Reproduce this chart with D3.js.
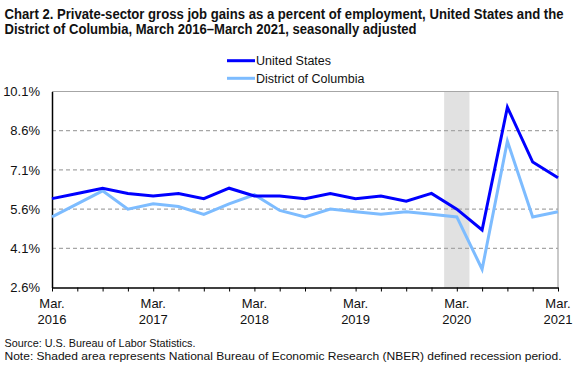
<!DOCTYPE html>
<html>
<head>
<meta charset="utf-8">
<script src="https://cdn.jsdelivr.net/npm/d3@7"></script>
<style>
  body { margin: 0; background: #fff; }
  svg { display: block; }
</style>
</head>
<body>
<div class="graph"></div>
<script>
// quarterly, Mar 2016 .. Mar 2021
const quarters = ["Mar 2016","Jun 2016","Sep 2016","Dec 2016","Mar 2017","Jun 2017","Sep 2017","Dec 2017",
                  "Mar 2018","Jun 2018","Sep 2018","Dec 2018","Mar 2019","Jun 2019","Sep 2019","Dec 2019",
                  "Mar 2020","Jun 2020","Sep 2020","Dec 2020","Mar 2021"];
const usValues = [6.0, 6.2, 6.4, 6.2, 6.1, 6.2, 6.0, 6.4, 6.1, 6.1, 6.0, 6.2, 6.0, 6.1, 5.9, 6.2, 5.6, 4.8, 9.5, 7.4, 6.8];
const dcValues = [5.3, 5.8, 6.3, 5.6, 5.8, 5.7, 5.4, 5.8, 6.15, 5.55, 5.3, 5.6, 5.5, 5.4, 5.5, 5.4, 5.3, 3.3, 8.2, 5.3, 5.5];
const yTicks = [2.6, 4.1, 5.6, 7.1, 8.6, 10.1];
const xLabelIdx = [0, 4, 8, 12, 16, 20];
const xLabels = [["Mar.","2016"],["Mar.","2017"],["Mar.","2018"],["Mar.","2019"],["Mar.","2020"],["Mar.","2021"]];
const recession = [15.5, 16.5]; // shaded band around Mar 2020

const width = 583, height = 371;
const margin = {top: 91.5, right: 25, bottom: 83.5, left: 52};

const svg = d3.select(".graph").append("svg")
    .attr("width", width)
    .attr("height", height)
    .style("font-family", "Arial, 'Liberation Sans', sans-serif");

const x = d3.scaleLinear()
    .domain([0, quarters.length - 1])
    .range([margin.left, width - margin.right]);

const y = d3.scaleLinear()
    .domain([2.6, 10.1])
    .range([height - margin.bottom, margin.top]);

// title
const title = svg.append("g")
    .style("font-family", "'Liberation Sans Narrow', 'Arial Narrow', Arial, sans-serif")
    .style("font-weight", "bold")
    .style("font-size", "14.5px")
    .attr("fill", "#111");
title.append("text").attr("x", 4.5).attr("y", 19)
    .attr("textLength", 559).attr("lengthAdjust", "spacingAndGlyphs")
    .text("Chart 2. Private-sector gross job gains as a percent of employment, United States and the");
title.append("text").attr("x", 4.5).attr("y", 34)
    .attr("textLength", 412).attr("lengthAdjust", "spacingAndGlyphs")
    .text("District of Columbia, March 2016\u2013March 2021, seasonally adjusted");

// recession shading
svg.append("rect")
    .attr("x", x(recession[0]))
    .attr("width", x(recession[1]) - x(recession[0]))
    .attr("y", y(10.1))
    .attr("height", y(2.6) - y(10.1))
    .attr("fill", "#e1e1e1");

// gridlines
svg.append("g")
    .selectAll("line")
    .data(yTicks.slice(1, -1))
    .join("line")
    .attr("x1", x(0)).attr("x2", x(20))
    .attr("y1", d => y(d)).attr("y2", d => y(d))
    .attr("stroke", "#a6a6a6")
    .attr("stroke-dasharray", "4,3")
    .attr("stroke-width", 1.2);

// top and right border
svg.append("path")
    .attr("d", `M${x(0)},${y(10.1)}H${x(20)}V${y(2.6)}`)
    .attr("fill", "none")
    .attr("stroke", "#a6a6a6")
    .attr("stroke-width", 1.2);

// y axis
const yAxis = g => g
    .attr("transform", `translate(${margin.left},0)`)
    .call(d3.axisLeft(y).tickValues(yTicks).tickSize(0).tickPadding(12).tickFormat(d => d.toFixed(1) + "%"))
    .call(g => g.select(".domain").attr("stroke", "#000").attr("stroke-width", 1.5));
svg.append("g").call(yAxis)
    .style("font-size", "13px")
    .style("font-family", "Arial, 'Liberation Sans', sans-serif")
    .selectAll("text").attr("fill", "#111");

// x axis
const xAxis = g => g
    .attr("transform", `translate(0,${height - margin.bottom})`)
    .call(d3.axisBottom(x).tickValues(d3.range(quarters.length)).tickSize(4).tickSizeOuter(0).tickFormat(""))
    .call(g => g.select(".domain").attr("stroke", "#000").attr("stroke-width", 1.5))
    .call(g => g.selectAll(".tick line").attr("stroke", "#000"));
svg.append("g").call(xAxis);

const xl = svg.append("g")
    .style("font-size", "13px")
    .attr("fill", "#111")
    .attr("text-anchor", "middle");
xl.selectAll("text.m")
    .data(xLabelIdx)
    .join("text")
    .attr("class", "m")
    .attr("x", d => x(d))
    .attr("y", 308)
    .text((d, i) => xLabels[i][0]);
xl.selectAll("text.yr")
    .data(xLabelIdx)
    .join("text")
    .attr("class", "yr")
    .attr("x", d => x(d))
    .attr("y", 323.5)
    .text((d, i) => xLabels[i][1]);

// lines
const line = d3.line()
    .x((d, i) => x(i))
    .y(d => y(d));

svg.append("path")
    .datum(dcValues)
    .attr("fill", "none")
    .attr("stroke", "#7dbcff")
    .attr("stroke-width", 3)
    .attr("d", line);

svg.append("path")
    .datum(usValues)
    .attr("fill", "none")
    .attr("stroke", "#0000ff")
    .attr("stroke-width", 3)
    .attr("d", line);

// legend
const legendItems = [
    {name: "United States", color: "#0000ff", y: 60.7},
    {name: "District of Columbia", color: "#7dbcff", y: 78.3}
];
const lg = svg.append("g").selectAll("g")
    .data(legendItems)
    .join("g");
lg.append("line")
    .attr("x1", 227).attr("x2", 255)
    .attr("y1", d => d.y).attr("y2", d => d.y)
    .attr("stroke", d => d.color)
    .attr("stroke-width", 3);
lg.append("text")
    .attr("x", 256)
    .attr("y", d => d.y + 4.5)
    .style("font-size", "12.5px")
    .attr("fill", "#111")
    .text(d => d.name);

// source and note
const notes = svg.append("g")
    .style("font-family", "'Liberation Sans Narrow', 'Arial Narrow', Arial, sans-serif")
    .style("font-size", "11px")
    .attr("fill", "#111");
notes.append("text").attr("x", 4.5).attr("y", 346.5)
    .attr("textLength", 191).attr("lengthAdjust", "spacingAndGlyphs")
    .text("Source: U.S. Bureau of Labor Statistics.");
notes.append("text").attr("x", 4.5).attr("y", 359.5)
    .attr("textLength", 557).attr("lengthAdjust", "spacingAndGlyphs")
    .text("Note: Shaded area represents National Bureau of Economic Research (NBER) defined recession period.");
</script>
</body>
</html>
